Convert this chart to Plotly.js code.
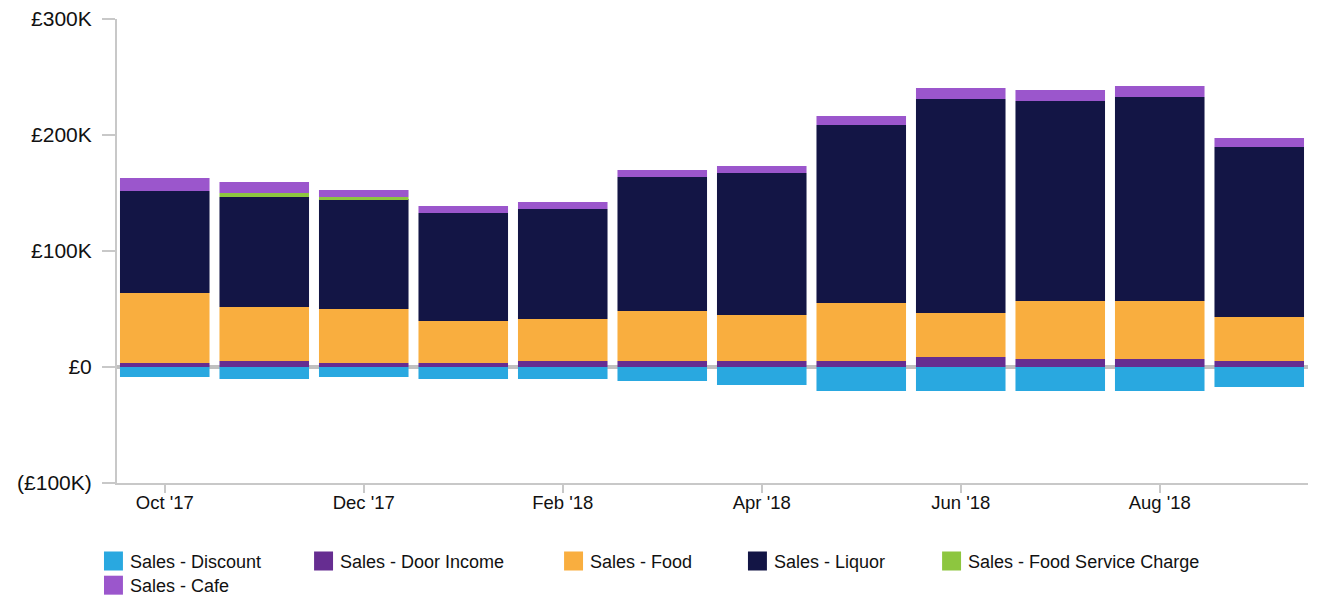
<!DOCTYPE html>
<html>
<head>
<meta charset="utf-8">
<script src="https://cdn.plot.ly/plotly-3.0.1.min.js"></script>
<style>
  html, body { margin: 0; padding: 0; background: #fff; }
  #chart { width: 1319px; height: 598px; }
</style>
</head>
<body>
<div id="chart"></div>
<script>
// Categories (months)
const months = ["Oct '17", "Nov '17", "Dec '17", "Jan '18", "Feb '18", "Mar '18",
                "Apr '18", "May '18", "Jun '18", "Jul '18", "Aug '18", "Sep '18"];
const tickMonths = ["Oct '17", "Dec '17", "Feb '18", "Apr '18", "Jun '18", "Aug '18"];

// Series values (GBP)
const discount   = [-8600, -10300, -8600, -10300, -10300, -12100, -15500, -20700, -20700, -20700, -20700, -17200];
const doorIncome = [3400, 5200, 3400, 3400, 5200, 5200, 5200, 5200, 8600, 6900, 6900, 5200];
const food       = [60400, 46500, 46600, 36300, 36200, 43100, 39600, 50000, 37900, 50000, 50000, 37900];
const liquor     = [87900, 94800, 94800, 93000, 94800, 115500, 122400, 153400, 184500, 172400, 175800, 146500];
const foodService= [0, 3500, 1700, 0, 0, 0, 0, 0, 0, 0, 0, 0];
const cafe       = [11300, 9500, 6100, 6100, 6000, 6000, 6100, 7800, 9500, 9500, 9500, 7800];

// Y tick labels
const yTickVals = [-100000, 0, 100000, 200000, 300000];
const yTickText = ["(£100K)", "£0", "£100K", "£200K", "£300K"];

const seriesNames  = ["Sales - Discount", "Sales - Door Income", "Sales - Food",
                      "Sales - Liquor", "Sales - Food Service Charge", "Sales - Cafe"];
const seriesValues = [discount, doorIncome, food, liquor, foodService, cafe];
const seriesColors = ["#29a8e0", "#662d91", "#f9ae3f", "#131545", "#8dc63f", "#9b56cc"];

// legend placement (paper coords) for each entry
const legendX = [-0.0227, 0.1537, 0.3636, 0.5180, 0.6810, -0.0227];
const legendY = [-0.129, -0.129, -0.129, -0.129, -0.129, -0.181];

const traces = seriesNames.map((name, i) => ({
  type: "bar",
  name: name,
  x: months,
  y: seriesValues[i],
  legend: i === 0 ? "legend" : "legend" + (i + 1),
  marker: { color: seriesColors[i], line: { width: 0 } },
  hoverinfo: "x+y+name"
}));

const layout = {
  width: 1319,
  height: 598,
  barmode: "relative",
  bargap: 0.1,
  margin: { l: 117, r: 11, t: 19, b: 115, autoexpand: false },
  paper_bgcolor: "#ffffff",
  plot_bgcolor: "#ffffff",
  font: { family: "Liberation Sans, Arial, sans-serif", color: "#111111", size: 17 },
  xaxis: {
    type: "category",
    range: [-0.48, 11.49],
    tickmode: "array",
    tickvals: tickMonths,
    ticktext: tickMonths,
    ticks: "outside",
    ticklen: 8,
    tickwidth: 2,
    tickcolor: "#c8c8c8",
    showline: true,
    linecolor: "#c8c8c8",
    linewidth: 2,
    showgrid: false,
    zeroline: false,
    ticklabelstandoff: -6,
    tickfont: { size: 18.5, color: "#111111" },
    automargin: false,
    fixedrange: true
  },
  yaxis: {
    range: [-100000, 300000],
    tickmode: "array",
    tickvals: yTickVals,
    ticktext: yTickText,
    ticks: "outside",
    ticklen: 13,
    tickwidth: 2,
    tickcolor: "#c8c8c8",
    showline: true,
    linecolor: "#c8c8c8",
    linewidth: 2,
    showgrid: false,
    zeroline: true,
    zerolinecolor: "#c0c0c0",
    zerolinewidth: 4,
    ticklabelstandoff: 6,
    tickfont: { size: 21, color: "#111111" },
    automargin: false,
    fixedrange: true
  },
  showlegend: true
};

seriesNames.forEach((n, i) => {
  const key = i === 0 ? "legend" : "legend" + (i + 1);
  layout[key] = {
    orientation: "h",
    x: legendX[i],
    xanchor: "left",
    y: legendY[i],
    yanchor: "top",
    font: { size: 18, color: "#111111" },
    bgcolor: "rgba(0,0,0,0)"
  };
});

Plotly.newPlot("chart", traces, layout, { displayModeBar: false, responsive: false }).then(() => {
  // enlarge legend swatches to match the larger square markers of the reference
  document.querySelectorAll(".legendpoints path").forEach(p => {
    const t = p.getAttribute("transform") || "";
    p.setAttribute("transform", t + " translate(3.5,0) scale(1.58)");
  });
});
</script>
</body>
</html>
